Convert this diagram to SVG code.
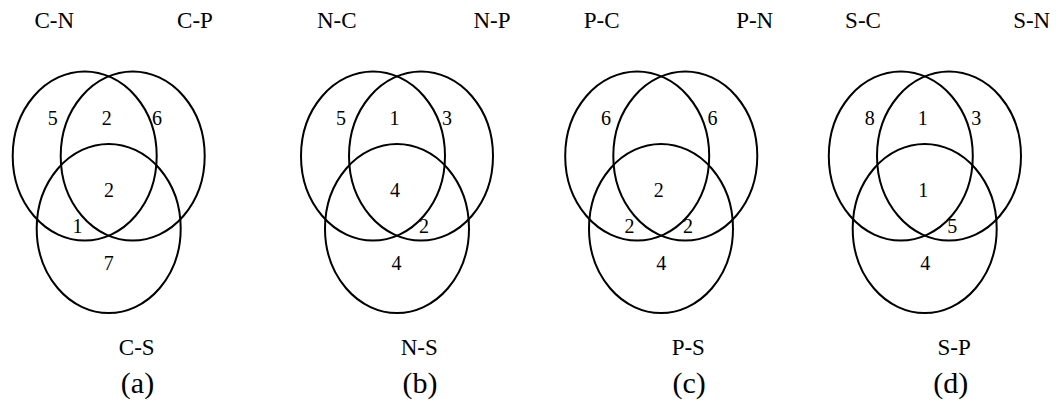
<svg xmlns="http://www.w3.org/2000/svg" width="1062" height="414" viewBox="0 0 1062 414">
<style>
.c{fill:none;stroke:#000;stroke-width:2}
text{font-family:'Liberation Serif','DejaVu Serif','Times New Roman',Times,serif;fill:#000;text-anchor:middle}
.l{font-size:23px}
.n{font-size:20px}
.cap{font-size:30px}
</style>
<rect width="1062" height="414" fill="#fff"/>
<g id="panel-a">
<ellipse class="c" cx="84.7" cy="156" rx="72" ry="84.5"/>
<ellipse class="c" cx="132.7" cy="156" rx="72" ry="84.5"/>
<ellipse class="c" cx="108.7" cy="228.5" rx="72" ry="84.5"/>
<text class="l" x="54.2" y="28">C-N</text>
<text class="l" x="195" y="28">C-P</text>
<text class="l" x="136.7" y="355">C-S</text>
<text class="n" x="52.8" y="125">5</text>
<text class="n" x="106.7" y="125">2</text>
<text class="n" x="157" y="125">6</text>
<text class="n" x="109" y="197">2</text>
<text class="n" x="77.5" y="233">1</text>
<text class="n" x="108.7" y="270">7</text>
<text class="cap" x="137.5" y="393">(a)</text>
</g>
<g id="panel-b">
<ellipse class="c" cx="373" cy="156" rx="72" ry="84.5"/>
<ellipse class="c" cx="421" cy="156" rx="72" ry="84.5"/>
<ellipse class="c" cx="397" cy="228.5" rx="72" ry="84.5"/>
<text class="l" x="336.7" y="28">N-C</text>
<text class="l" x="492" y="28">N-P</text>
<text class="l" x="419.2" y="355">N-S</text>
<text class="n" x="341" y="125">5</text>
<text class="n" x="394.5" y="125">1</text>
<text class="n" x="447" y="125">3</text>
<text class="n" x="395" y="197">4</text>
<text class="n" x="424" y="233">2</text>
<text class="n" x="396.5" y="270">4</text>
<text class="cap" x="420" y="393">(b)</text>
</g>
<g id="panel-c">
<ellipse class="c" cx="637.2" cy="156" rx="72" ry="84.5"/>
<ellipse class="c" cx="685.3" cy="156" rx="72" ry="84.5"/>
<ellipse class="c" cx="661" cy="228.5" rx="72" ry="84.5"/>
<text class="l" x="601.7" y="28">P-C</text>
<text class="l" x="754.7" y="28">P-N</text>
<text class="l" x="688.3" y="355">P-S</text>
<text class="n" x="606" y="125">6</text>
<text class="n" x="712.5" y="125">6</text>
<text class="n" x="658.7" y="197">2</text>
<text class="n" x="629.5" y="233">2</text>
<text class="n" x="688" y="233">2</text>
<text class="n" x="661.3" y="270">4</text>
<text class="cap" x="689.2" y="393">(c)</text>
</g>
<g id="panel-d">
<ellipse class="c" cx="900.8" cy="156" rx="72" ry="84.5"/>
<ellipse class="c" cx="949" cy="156" rx="72" ry="84.5"/>
<ellipse class="c" cx="924.7" cy="228.5" rx="72" ry="84.5"/>
<text class="l" x="863" y="28">S-C</text>
<text class="l" x="1031.7" y="28">S-N</text>
<text class="l" x="954.2" y="355">S-P</text>
<text class="n" x="869.7" y="125">8</text>
<text class="n" x="922.8" y="125">1</text>
<text class="n" x="976.3" y="125">3</text>
<text class="n" x="923.2" y="197">1</text>
<text class="n" x="952.2" y="233">5</text>
<text class="n" x="925.3" y="270">4</text>
<text class="cap" x="950.8" y="393">(d)</text>
</g>
<g id="connectors"/>
</svg>
